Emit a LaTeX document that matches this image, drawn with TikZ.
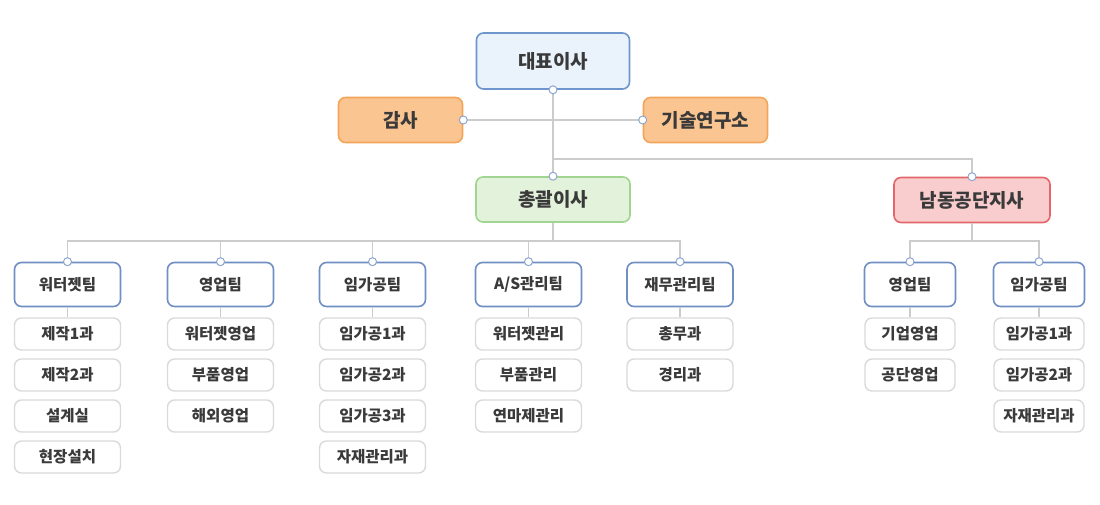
\documentclass[tikz,border=0pt]{standalone}
\usepackage{fontspec}
\setmainfont{Noto Sans CJK KR}
\usetikzlibrary{positioning}
\definecolor{txtgray}{HTML}{3A3A3A}
\definecolor{ceofill}{HTML}{EAF3FC}
\definecolor{ceoline}{HTML}{6E95CC}
\definecolor{orgfill}{HTML}{FAC590}
\definecolor{orgline}{HTML}{F3A55C}
\definecolor{grnfill}{HTML}{E3F3DB}
\definecolor{grnline}{HTML}{A3D592}
\definecolor{redfill}{HTML}{F9CDCD}
\definecolor{redline}{HTML}{E3676A}
\definecolor{teamline}{HTML}{6F8FC3}
\definecolor{subline}{HTML}{DADADA}
\definecolor{linkgray}{HTML}{CCCCCC}
\definecolor{dotline}{HTML}{8DA5CF}

\begin{document}
\begin{tikzpicture}
  [x=1pt,y=-1pt,
   box/.style={rectangle,rounded corners=7pt,line width=1.6pt,text=txtgray,inner sep=0pt},
   head/.style={box,minimum height=45pt,font=\bfseries\fontsize{19}{19}\selectfont},
   team/.style={box,draw=teamline,fill=white,minimum width=106pt,minimum height=44pt,font=\bfseries\fontsize{15.5}{15.5}\selectfont},
   sub/.style={box,draw=subline,line width=1.4pt,fill=white,minimum width=106pt,minimum height=32pt,font=\bfseries\fontsize{15.5}{15.5}\selectfont},
   link/.style={draw=linkgray,line width=1.3pt},
   dot/.style={draw=dotline,fill=white,line width=1pt}]
  \useasboundingbox (0,0) rectangle (1100,504);
  % top
  \node[head,draw=ceoline,fill=ceofill,minimum width=153pt,minimum height=56pt](ceo) at (553,61){대표이사};
  \node[head,draw=orgline,fill=orgfill,minimum width=124pt](audit) at (400.5,120){감사};
  \node[head,draw=orgline,fill=orgfill,minimum width=124pt](lab) at (705.5,120){기술연구소};
  \node[head,draw=grnline,fill=grnfill,minimum width=154pt](gm) at (553,199.5){총괄이사};
  \node[head,draw=redline,fill=redfill,minimum width=156pt](branch) at (972,200){남동공단지사};
  % teams
  \node[team](t1) at (67.5,284.5){워터젯팀};
  \node[team](t2) at (220.5,284.5){영업팀};
  \node[team](t3) at (372.5,284.5){임가공팀};
  \node[team](t4) at (528.5,284.5){A/S관리팀};
  \node[team](t5) at (680,284.5){재무관리팀};
  \node[team,minimum width=91pt](t6) at (910,284.5){영업팀};
  \node[team,minimum width=91pt](t7) at (1039,284.5){임가공팀};
  % sections
  \node[sub](s11)[below =10pt of t1]{제작1과};
  \node[sub](s12)[below =7.6pt of s11]{제작2과};
  \node[sub](s13)[below =7.6pt of s12]{설계실};
  \node[sub](s14)[below =7.6pt of s13]{현장설치};
  \node[sub](s21)[below =10pt of t2]{워터젯영업};
  \node[sub](s22)[below =7.6pt of s21]{부품영업};
  \node[sub](s23)[below =7.6pt of s22]{해외영업};
  \node[sub](s31)[below =10pt of t3]{임가공1과};
  \node[sub](s32)[below =7.6pt of s31]{임가공2과};
  \node[sub](s33)[below =7.6pt of s32]{임가공3과};
  \node[sub](s34)[below =7.6pt of s33]{자재관리과};
  \node[sub](s41)[below =10pt of t4]{워터젯관리};
  \node[sub](s42)[below =7.6pt of s41]{부품관리};
  \node[sub](s43)[below =7.6pt of s42]{연마제관리};
  \node[sub](s51)[below =10pt of t5]{총무과};
  \node[sub](s52)[below =7.6pt of s51]{경리과};
  \node[sub,minimum width=90pt](s61)[below =10pt of t6]{기업영업};
  \node[sub,minimum width=90pt](s62)[below =7.6pt of s61]{공단영업};
  \node[sub,minimum width=90pt](s71)[below =10pt of t7]{임가공1과};
  \node[sub,minimum width=90pt](s72)[below =7.6pt of s71]{임가공2과};
  \node[sub,minimum width=90pt](s73)[below =7.6pt of s72]{자재관리과};
  % links
  \coordinate (fork) at (553,159);
  \coordinate (tbus) at (553,241);
  \coordinate (bbus) at (972,241);
  \draw[link](audit) -- (lab);
  \draw[link](ceo) -- (gm);
  \draw[link](fork) -| (branch.north);
  \draw[link](gm) -- (tbus);
  \draw[link](branch) -- (bbus);
  \draw[link](t1.north) |- (tbus) -| (t5.north);
  \draw[link](t6.north) |- (bbus) -| (t7.north);
  \foreach \t in {t2,t3,t4}
    \draw[link](\t.north) -- (\t.north |- tbus);
  \foreach \a/\b in {t1/s11,t2/s21,t3/s31,t4/s41,t5/s51,t6/s61,t7/s71}
    \draw[link](\a) -- (\b);
  % dots
  \foreach \p in {ceo.south,audit.east,lab.west,gm.north,branch.north,t1.north,t2.north,t3.north,t4.north,t5.north,t6.north,t7.north}
    \draw[dot](\p) circle (4pt);
\end{tikzpicture}
\end{document}
